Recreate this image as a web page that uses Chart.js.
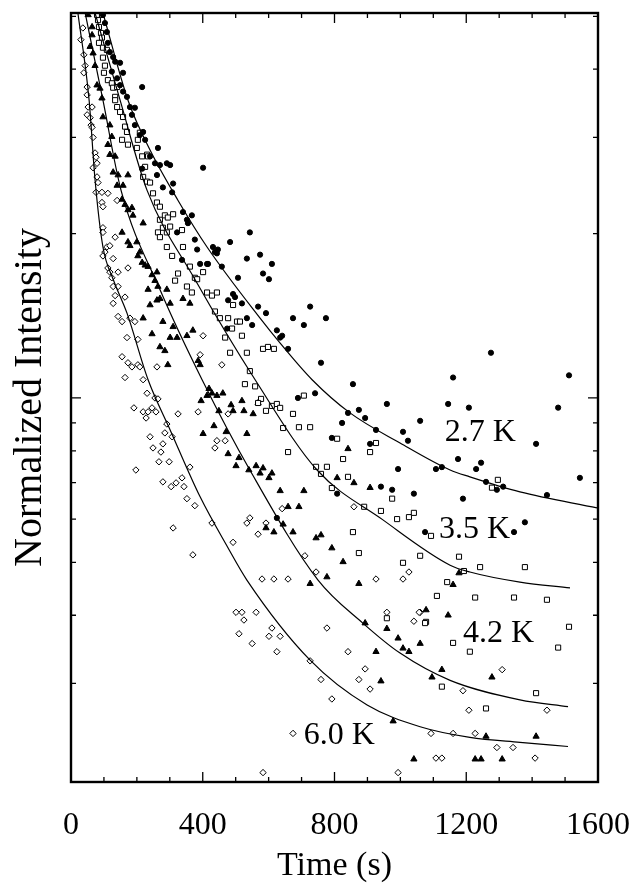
<!DOCTYPE html>
<html>
<head>
<meta charset="utf-8">
<title>Normalized Intensity vs Time</title>
<script src="https://cdn.jsdelivr.net/npm/chart.js"></script>
<style>
    body { margin: 0; background: #fff; }
    #decayGraph { display: block; }
</style>
</head>
<body>
<canvas id="decayGraph" width="632" height="886"></canvas>
<script>
// measured points, time in s, intensity normalized (log axis)
var t27 = [97,103,109,112,118,128,134,149,158,124,140,149,216,158,170,179,194,185,194,219,209,225,264,240,255,270,291,301,216,261,279,310,307,401,340,352,367,355,322,376,383,431,437,446,443,483,543,534,574,337,392,413,416,458,507,477,492,498,519,568,534,550,474,610,583,601,592,674,726,774,707,625,635,641,659,759,856,689,741,959,1145,841,874,893,1060,823,926,1008,1023,792,908,993,1108,1126,941,975,1041,808,1075,625,1275,1160,1512,1208,1479,1412,1175,1245,1230,1545,1260,1293,1312,1445,1190,1345,1378];
var v27 = [.503,.486,.468,.447,.430,.421,.413,.411,.394,.396,.385,.374,.371,.364,.356,.341,.340,.330,.316,.307,.303,.297,.287,.277,.269,.267,.269,.267,.263,.256,.243,.247,.238,.264,.219,.212,.216,.209,.201,.195,.187,.189,.185,.187,.184,.193,.201,.180,.183,.179,.176,.176,.176,.174,.166,.151,.155,.153,.149,.147,.140,.136,.134,.176,.169,.165,.143,.140,.147,.140,.136,.133,.129,.130,.123,.116,.106,.100,.102,.0975,.0975,.0939,.0951,.0919,.0908,.0900,.0874,.0867,.0835,.0845,.0824,.0741,.0741,.0747,.0688,.0679,.0668,.0668,.0568,.0603,.121,.109,.110,.0960,.0960,.0824,.0773,.0761,.0741,.0714,.0702,.0679,.0688,.0664,.0654,.0568,.0592];

var t35 = [79,94,82,85,91,94,85,97,109,97,103,100,112,124,128,140,134,134,140,149,158,164,170,155,173,209,203,200,216,231,234,225,219,231,240,249,261,270,285,294,310,270,279,291,264,270,301,337,291,307,340,361,325,376,401,316,352,383,367,413,428,443,492,437,452,477,489,504,513,519,468,483,534,543,583,598,616,528,559,577,568,592,610,625,635,674,707,644,692,726,808,926,659,908,826,744,777,759,841,792,975,890,941,990,1026,1041,1093,856,874,1060,1008,1142,1111,1296,1278,1178,1242,1378,1193,1227,1345,1445,1078,1160,1211,1512,1479,959,1075,1126,1260,1412];
var v35 = [.503,.503,.492,.478,.466,.457,.447,.438,.434,.420,.406,.394,.382,.377,.370,.371,.356,.351,.341,.334,.327,.314,.307,.297,.291,.306,.297,.287,.277,.279,.277,.265,.254,.249,.248,.237,.228,.224,.216,.214,.217,.212,.205,.201,.201,.197,.206,.203,.189,.182,.189,.174,.169,.166,.170,.164,.160,.165,.156,.156,.154,.156,.148,.144,.140,.140,.134,.138,.138,.130,.129,.121,.121,.112,.123,.124,.123,.106,.105,.0996,.0979,.0947,.0967,.0975,.0959,.0935,.101,.0881,.0884,.0884,.0842,.0827,.0796,.0796,.0773,.0748,.0748,.0726,.0717,.0684,.0654,.0632,.0621,.0600,.0605,.0616,.0559,.0568,.0520,.0514,.0499,.0460,.0434,.0708,.0685,.0512,.0490,.0490,.0482,.0431,.0431,.0427,.0389,.0356,.0343,.0381,.0349,.0395,.0387,.0296,.0270,.0288];

var t42 = [52,64,64,58,67,73,79,88,94,97,118,112,124,118,134,128,143,173,140,158,155,164,185,173,188,219,155,173,200,179,209,203,216,225,234,261,246,255,234,264,291,270,261,240,301,340,361,219,279,310,246,301,322,352,370,270,285,294,386,392,419,413,428,443,461,395,486,519,449,492,525,553,434,401,471,534,477,510,501,540,562,568,841,808,859,583,574,601,610,635,707,659,692,644,592,616,674,744,759,792,826,908,777,726,874,1178,1160,1078,1145,1060,1126,1096,1278,893,959,993,1008,1026,926,941,978,1041,1260,1412,1227,1245,1309];
var v42 = [.503,.478,.462,.440,.428,.406,.374,.369,.354,.327,.316,.291,.301,.279,.277,.259,.256,.256,.245,.245,.231,.226,.223,.221,.216,.209,.201,.193,.193,.190,.185,.182,.177,.175,.174,.170,.168,.164,.158,.160,.158,.152,.151,.148,.149,.152,.149,.140,.138,.135,.131,.129,.129,.130,.133,.124,.122,.115,.117,.115,.104,.101,.102,.101,.102,.0988,.0971,.0988,.0947,.0947,.0947,.0935,.0889,.0860,.0867,.0860,.0790,.0777,.0751,.0738,.0751,.0979,.0807,.0714,.0699,.0744,.0728,.0714,.0728,.0676,.0676,.0632,.0632,.0587,.0578,.0568,.0568,.0554,.0561,.0531,.0501,.0685,.0470,.0457,.0457,.0478,.0455,.0409,.0400,.0355,.0318,.0308,.0308,.0387,.0378,.0363,.0348,.0343,.0343,.0303,.0256,.0218,.0240,.0240,.0218,.0218,.0218];

var t60 = [36,30,39,43,39,49,49,52,64,49,58,61,64,67,73,76,79,67,79,82,76,94,112,94,97,140,97,97,134,109,118,103,97,128,112,118,143,173,124,128,143,134,164,128,143,179,155,194,170,203,155,173,185,203,209,164,261,401,392,458,219,231,255,264,191,219,234,246,258,228,325,386,291,285,307,240,279,249,273,267,298,197,361,279,304,319,337,343,352,376,428,310,370,492,534,543,568,443,437,468,477,501,519,562,525,510,550,592,641,710,744,580,616,659,926,1008,1026,859,1060,610,601,635,625,777,841,726,759,792,893,874,908,959,1041,1057,674,583,993,1093,1108,1126,1309,1190,1208,1445,1160,1227,1293,1342,1409];
var v60 = [.476,.453,.425,.406,.394,.371,.359,.341,.341,.330,.326,.316,.313,.300,.281,.276,.269,.264,.254,.248,.238,.238,.237,.228,.224,.230,.205,.201,.197,.189,.190,.185,.182,.180,.173,.170,.170,.173,.166,.160,.160,.154,.153,.149,.141,.140,.138,.138,.129,.128,.119,.116,.114,.115,.114,.109,.114,.130,.120,.115,.108,.102,.100,.0996,.0959,.0943,.0943,.0959,.0943,.0919,.0935,.0943,.0896,.0863,.0849,.0849,.0824,.0810,.0796,.0764,.0764,.0738,.0747,.0702,.0688,.0699,.0714,.0688,.0654,.0635,.0590,.0578,.0516,.0544,.0590,.0603,.0563,.0835,.0810,.0835,.0935,.0405,.0405,.0405,.0392,.0370,.0355,.0590,.0627,.0514,.0480,.0466,.0466,.0466,.0466,.0466,.0480,.0632,.0405,.0379,.0366,.0366,.0343,.0379,.0343,.0330,.0305,.0281,.0319,.0305,.0293,.0405,.0390,.0405,.0243,.0206,.0206,.0243,.0219,.0219,.0318,.0291,.0268,.0268,.0243,.0243,.0229,.0229,.0219];

// fitted curves
var fit27T = [97,173,240,325,413,574,635,732,847,999,1151,1211,1363,1597];
var fit27V = [.507,.351,.2845,.230,.189,.140,.126,.108,.0939,.0827,.0738,.0717,.0673,.0629];
var fit35T = [73,149,231,376,559,747,947,1151,1211,1363,1515];
var fit35V = [.507,.351,.240,.165,.108,.0738,.0598,.0494,.0480,.0460,.0449];
var fit42T = [43,97,152,270,398,543,750,886,999,1151,1363,1509];
var fit42V = [.507,.351,.240,.158,.108,.0738,.0464,.0387,.0341,.0304,.0280,.0272];
var fit60T = [21,55,73,97,128,170,234,301,392,474,534,726,899,1060,1211,1363,1509];
var fit60V = [.507,.351,.251,.189,.165,.143,.108,.0874,.0659,.0535,.0464,.0331,.0274,.025,.0239,.0234,.023];

// temperature labels
var labelText = ["2.7 K", "3.5 K", "4.2 K", "6.0 K"];
var labelT = [1135, 1117, 1190, 707];
var labelV = [.0864, .0573, .037, .0241];

// axis ticks
var xTickVals = [0,100,200,300,400,500,600,700,800,900,1000,1100,1200,1300,1400,1500,1600];
var yTickVals = [.03,.04,.05,.06,.07,.08,.09,.1,.2,.3,.4,.5];

var serif = "'Liberation Serif', 'Times New Roman', serif";

function pts(ts, vs) {
    var out = [];
    for (var i in ts) {
        out.push({x: ts[i], y: vs[i]});
    }
    return out;
}

function fitLine(ts, vs) {
    return {
        data: pts(ts, vs),
        showLine: true,
        pointRadius: 0,
        borderColor: "#000",
        borderWidth: 1.2,
        cubicInterpolationMode: "monotone",
        fill: false
    };
}

// inward ticks, the box round the plot and the temperature labels
var frameTicks = {
    id: "frameTicks",
    afterDatasetsDraw: function(chart) {
        var ctx = chart.ctx;
        var a = chart.chartArea;
        var x = chart.scales.x;
        var y = chart.scales.y;
        ctx.save();
        ctx.strokeStyle = "#000";
        ctx.lineWidth = 1.3;
        ctx.beginPath();
        xTickVals.forEach(function(t) {
            var px = x.getPixelForValue(t);
            var len = (t % 400 === 0) ? 10 : 5;
            ctx.moveTo(px, a.bottom);
            ctx.lineTo(px, a.bottom - len);
            ctx.moveTo(px, a.top);
            ctx.lineTo(px, a.top + len);
        });
        yTickVals.forEach(function(v) {
            var py = y.getPixelForValue(v);
            var len = (v === .1) ? 10 : 5;
            ctx.moveTo(a.left, py);
            ctx.lineTo(a.left + len, py);
            ctx.moveTo(a.right, py);
            ctx.lineTo(a.right - len, py);
        });
        ctx.stroke();
        ctx.lineWidth = 2.4;
        ctx.strokeRect(a.left, a.top, a.right - a.left, a.bottom - a.top);

        ctx.fillStyle = "#000";
        ctx.font = "32px " + serif;
        ctx.textAlign = "left";
        ctx.textBaseline = "middle";
        for (var i in labelText) {
            ctx.fillText(labelText[i], x.getPixelForValue(labelT[i]), y.getPixelForValue(labelV[i]));
        }
        ctx.restore();
    }
};

var chartdata = {
    datasets: [
        fitLine(fit27T, fit27V),
        fitLine(fit35T, fit35V),
        fitLine(fit42T, fit42V),
        fitLine(fit60T, fit60V),
        {
            label: "2.7 K",
            data: pts(t27, v27),
            pointStyle: "circle",
            pointRadius: 2.6,
            backgroundColor: "#000",
            borderColor: "#000",
            borderWidth: 1
        },
        {
            label: "3.5 K",
            data: pts(t35, v35),
            pointStyle: "rect",
            pointRadius: 3.6,
            backgroundColor: "#fff",
            borderColor: "#000",
            borderWidth: 1
        },
        {
            label: "4.2 K",
            data: pts(t42, v42),
            pointStyle: "triangle",
            pointRadius: 3.6,
            backgroundColor: "#000",
            borderColor: "#000",
            borderWidth: 1
        },
        {
            label: "6.0 K",
            data: pts(t60, v60),
            pointStyle: "rectRot",
            pointRadius: 3.2,
            backgroundColor: "#fff",
            borderColor: "#000",
            borderWidth: 1
        }
    ]
};

var ctx = document.getElementById("decayGraph");

var DecayGraph = new Chart(ctx, {
    type: "scatter",
    data: chartdata,
    plugins: [frameTicks],
    options: {
        responsive: false,
        animation: false,
        layout: { padding: { top: 13, right: 34, left: 0, bottom: 0 } },
        plugins: {
            legend: { display: false },
            tooltip: { enabled: false }
        },
        scales: {
            x: {
                type: "linear",
                min: 0,
                max: 1600,
                grid: { display: false, drawTicks: false },
                border: { display: false },
                ticks: {
                    stepSize: 400,
                    maxRotation: 0,
                    color: "#000",
                    padding: 24,
                    font: { family: serif, size: 32 },
                    callback: function(value) { return String(value); }
                },
                title: {
                    display: true,
                    text: "Time (s)",
                    color: "#000",
                    padding: { top: 0, bottom: 0 },
                    font: { family: serif, size: 34 }
                },
                afterFit: function(scale) {
                    scale.height = 104;
                    scale.paddingLeft = 0;
                    scale.paddingRight = 0;
                }
            },
            y: {
                type: "logarithmic",
                min: 0.0198,
                max: 0.507,
                grid: { display: false, drawTicks: false },
                border: { display: false },
                ticks: { display: false },
                title: {
                    display: true,
                    text: "Normalized Intensity",
                    color: "#000",
                    padding: { top: 6, bottom: 0 },
                    font: { family: serif, size: 40 }
                },
                afterFit: function(scale) { scale.width = 71; }
            }
        }
    }
});
</script>
</body>
</html>
